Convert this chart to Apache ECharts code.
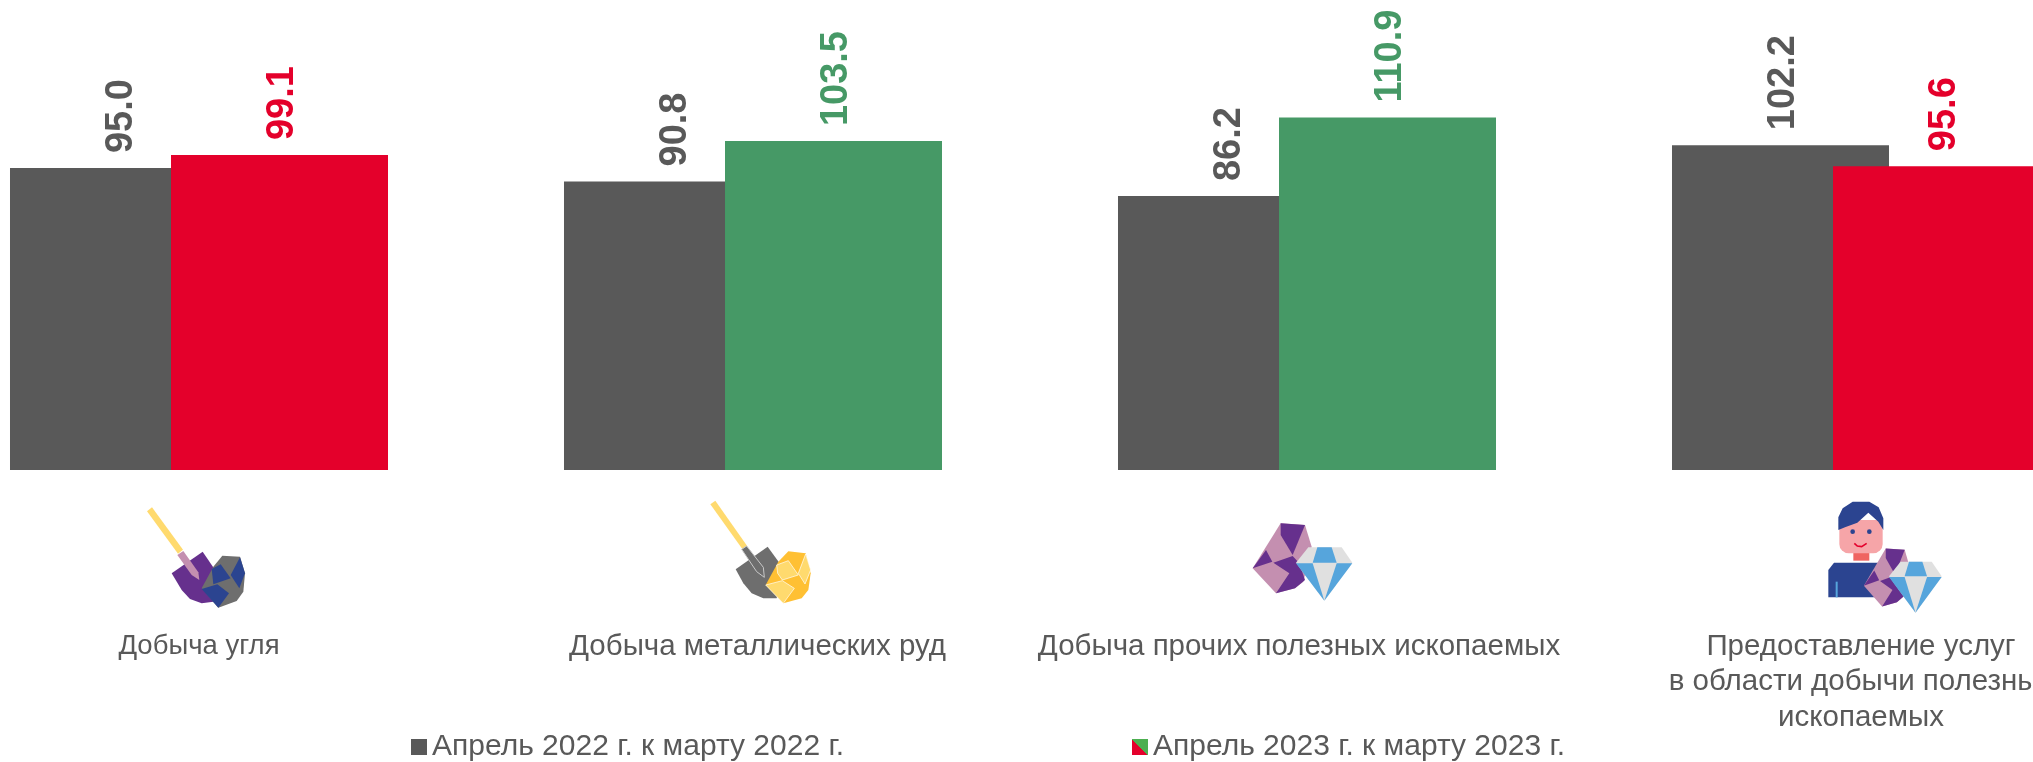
<!DOCTYPE html>
<html>
<head>
<meta charset="utf-8">
<title>Добыча полезных ископаемых</title>
<style>
  html, body { margin: 0; padding: 0; background: #fff; }
  #chart { width: 2033px; height: 762px; overflow: hidden; }
</style>
<script src="https://cdn.jsdelivr.net/npm/echarts@6/dist/echarts.min.js"></script>
</head>
<body>
<div id="chart"></div>
<script>
const categories = [
  'Добыча угля',
  'Добыча металлических руд',
  'Добыча прочих полезных ископаемых',
  'Предоставление услуг\nв области добычи полезных\nископаемых',
];
const seriesNames = ['Апрель 2022 г. к марту 2022 г.', 'Апрель 2023 г. к марту 2023 г.'];
const values2022 = [95.0, 90.8, 86.2, 102.2];
const values2023 = [99.1, 103.5, 110.9, 95.6];

const FONT = '"Liberation Sans", Arial, sans-serif';
const GRAY = '#595959';
const RED = '#E4002B';
const GREEN = '#469966';
const YELLOW = '#FFDA6E';
const AMBER = '#FFC033';
const PURPLE = '#66308D';
const PINK = '#C48FB0';
const NAVY = '#2B4490';
const ROCK = '#6E6E6E';
const BLUE = '#56A5DC';
const LIGHT = '#E0E0E0';

const trend = (v) => (v >= 100 ? GREEN : RED);

// per category tweaks, the source labels are not quite centred under the bars
const labelStyles = [
  { fontSize: 27.5 },
  { padding: [0, 0, 0, 9] },
  { padding: [0, 16, 0, 0] },
  {},
];

// icon shapes are traced in 3x crop units, the group scale brings them back
const poly = (points, fill, extra) => ({
  type: 'polygon',
  shape: { points },
  style: { fill, ...extra },
});

const rockShapes = () => [
  poly([[38, 175], [122, 40], [195, 45], [215, 110], [190, 215], [165, 235], [108, 250]], PINK),
  poly([[122, 40], [195, 45], [158, 135], [122, 75]], PURPLE),
  poly([[38, 175], [78, 120], [97, 155]], PURPLE),
  poly([[100, 158], [158, 138], [178, 160], [195, 210], [165, 235], [108, 250], [148, 190]], PURPLE),
];
const diamondShapes = () => [
  poly([[168, 158], [205, 112], [305, 112], [337, 158], [253, 272]], LIGHT),
  poly([[232, 112], [275, 112], [290, 158], [218, 158]], BLUE),
  poly([[168, 160], [218, 160], [253, 272]], BLUE),
  poly([[290, 160], [337, 160], [253, 272]], BLUE),
];

const coalIcon = {
  type: 'group', x: 130, y: 495, scaleX: 1 / 3, scaleY: 1 / 3,
  children: [
    poly([[51, 49], [66, 37], [159, 164], [144, 176]], YELLOW),
    poly([[125, 235], [218, 170], [262, 235], [250, 320], [215, 325], [180, 312], [155, 285]], PURPLE),
    poly([[142, 180], [160, 168], [205, 232], [208, 255], [185, 240]], PINK),
    poly([[215, 280], [250, 215], [277, 182], [330, 185], [345, 235], [340, 290], [320, 318], [265, 338]], ROCK),
    poly([[245, 222], [272, 208], [302, 250], [250, 268]], NAVY),
    poly([[330, 187], [345, 235], [328, 280], [302, 240]], NAVY),
    poly([[215, 282], [262, 268], [297, 295], [265, 338]], NAVY),
  ],
};

const oreIcon = {
  type: 'group', x: 695, y: 490, scaleX: 1 / 3, scaleY: 1 / 3,
  children: [
    poly([[46, 43], [61, 32], [156, 167], [142, 177]], YELLOW),
    poly([[122, 238], [218, 170], [265, 235], [245, 325], [205, 325], [170, 310], [145, 280]], ROCK),
    poly([[140, 178], [155, 168], [205, 232], [208, 262], [185, 245]], ROCK, { stroke: '#C8C8C8', lineWidth: 3 }),
    poly([[212, 285], [250, 215], [280, 184], [332, 190], [347, 250], [340, 300], [320, 325], [265, 340]], AMBER),
    poly([[212, 285], [262, 272], [298, 295], [265, 340]], YELLOW, { stroke: '#fff', lineWidth: 2 }),
    poly([[245, 225], [280, 212], [310, 255], [262, 270], [248, 250]], YELLOW, { stroke: '#fff', lineWidth: 2 }),
    poly([[332, 192], [347, 240], [330, 282], [310, 250]], YELLOW, { stroke: '#fff', lineWidth: 2 }),
  ],
};

const gemIcon = {
  type: 'group', x: 1240, y: 510, scaleX: 1 / 3, scaleY: 1 / 3,
  children: [...rockShapes(), ...diamondShapes()],
};

const workerIcon = {
  type: 'group', x: 1820, y: 490, scaleX: 1 / 3, scaleY: 1 / 3,
  children: [
    poly([[25, 322], [25, 240], [42, 218], [195, 218], [195, 322]], NAVY),
    poly([[47, 275], [53, 275], [53, 322], [47, 322]], BLUE),
    poly([[100, 185], [148, 185], [148, 212], [100, 212]], '#EF6461'),
    { type: 'rect', shape: { x: 58, y: 90, width: 130, height: 100, r: [0, 0, 28, 28] }, style: { fill: '#F6A5A8' } },
    poly([[55, 120], [55, 82], [68, 55], [98, 35], [148, 35], [176, 52], [190, 85], [190, 120],
      [175, 95], [145, 68], [112, 98], [75, 112]], NAVY),
    { type: 'circle', shape: { cx: 98, cy: 125, r: 7 }, style: { fill: NAVY } },
    { type: 'circle', shape: { cx: 148, cy: 125, r: 7 }, style: { fill: NAVY } },
    {
      type: 'polyline',
      shape: { points: [[103, 160], [112, 168], [125, 170], [140, 160]] },
      style: { fill: 'none', stroke: RED, lineWidth: 5 },
    },
    { type: 'group', x: 102, y: 142, scaleX: 0.78, scaleY: 0.83, children: rockShapes() },
    { type: 'group', x: 50, y: 108, scaleX: 0.935, scaleY: 0.956, children: diamondShapes() },
  ],
};

const barLabel = {
  show: true,
  position: 'top',
  distance: 15,
  offset: [0, 3], // offset turns with the label, so this one moves it sideways
  rotate: 90,
  align: 'left',
  verticalAlign: 'middle',
  fontFamily: FONT,
  fontWeight: 'bold',
  fontSize: 38,
  formatter: (p) => p.value.toFixed(1),
};

const legendBase = {
  top: 727,
  itemWidth: 16,
  itemHeight: 16,
  textStyle: { fontFamily: FONT, fontSize: 30, color: GRAY },
};

const chart = echarts.init(document.getElementById('chart'));
chart.setOption({
  animation: false,
  backgroundColor: '#fff',
  grid: { left: -78, right: -105, top: 25.1, height: 444.9, outerBoundsMode: 'none' },
  legend: [
    {
      ...legendBase,
      left: 406,
      data: [{ name: seriesNames[0], icon: 'rect', itemStyle: { color: GRAY } }],
    },
    {
      ...legendBase,
      left: 1127,
      data: [{
        name: seriesNames[1],
        icon: 'rect',
        itemStyle: {
          // green over red, split along the diagonal
          color: new echarts.graphic.LinearGradient(1, 0, 0, 1, [
            { offset: 0, color: '#4CAF50' },
            { offset: 0.5, color: '#4CAF50' },
            { offset: 0.5, color: RED },
            { offset: 1, color: RED },
          ]),
        },
      }],
    },
  ],
  xAxis: {
    type: 'category',
    data: categories.map((value, i) => ({ value, textStyle: labelStyles[i] })),
    axisLine: { show: false },
    axisTick: { show: false },
    axisLabel: {
      interval: 0,
      margin: 159,
      verticalAlign: 'top',
      fontFamily: FONT,
      fontSize: 29.5,
      lineHeight: 35.5,
      color: GRAY,
    },
  },
  yAxis: { type: 'value', min: 0, max: 140, show: false },
  series: [
    {
      name: seriesNames[0],
      type: 'bar',
      barWidth: 217,
      barGap: '-25.8%',
      data: values2022,
      itemStyle: { color: GRAY },
      label: { ...barLabel, color: GRAY },
    },
    {
      name: seriesNames[1],
      type: 'bar',
      barWidth: 217,
      data: values2023.map((v) => ({
        value: v,
        itemStyle: { color: trend(v) },
        label: { color: trend(v) },
      })),
      label: barLabel,
    },
  ],
  graphic: [coalIcon, oreIcon, gemIcon, workerIcon],
});
</script>
</body>
</html>
